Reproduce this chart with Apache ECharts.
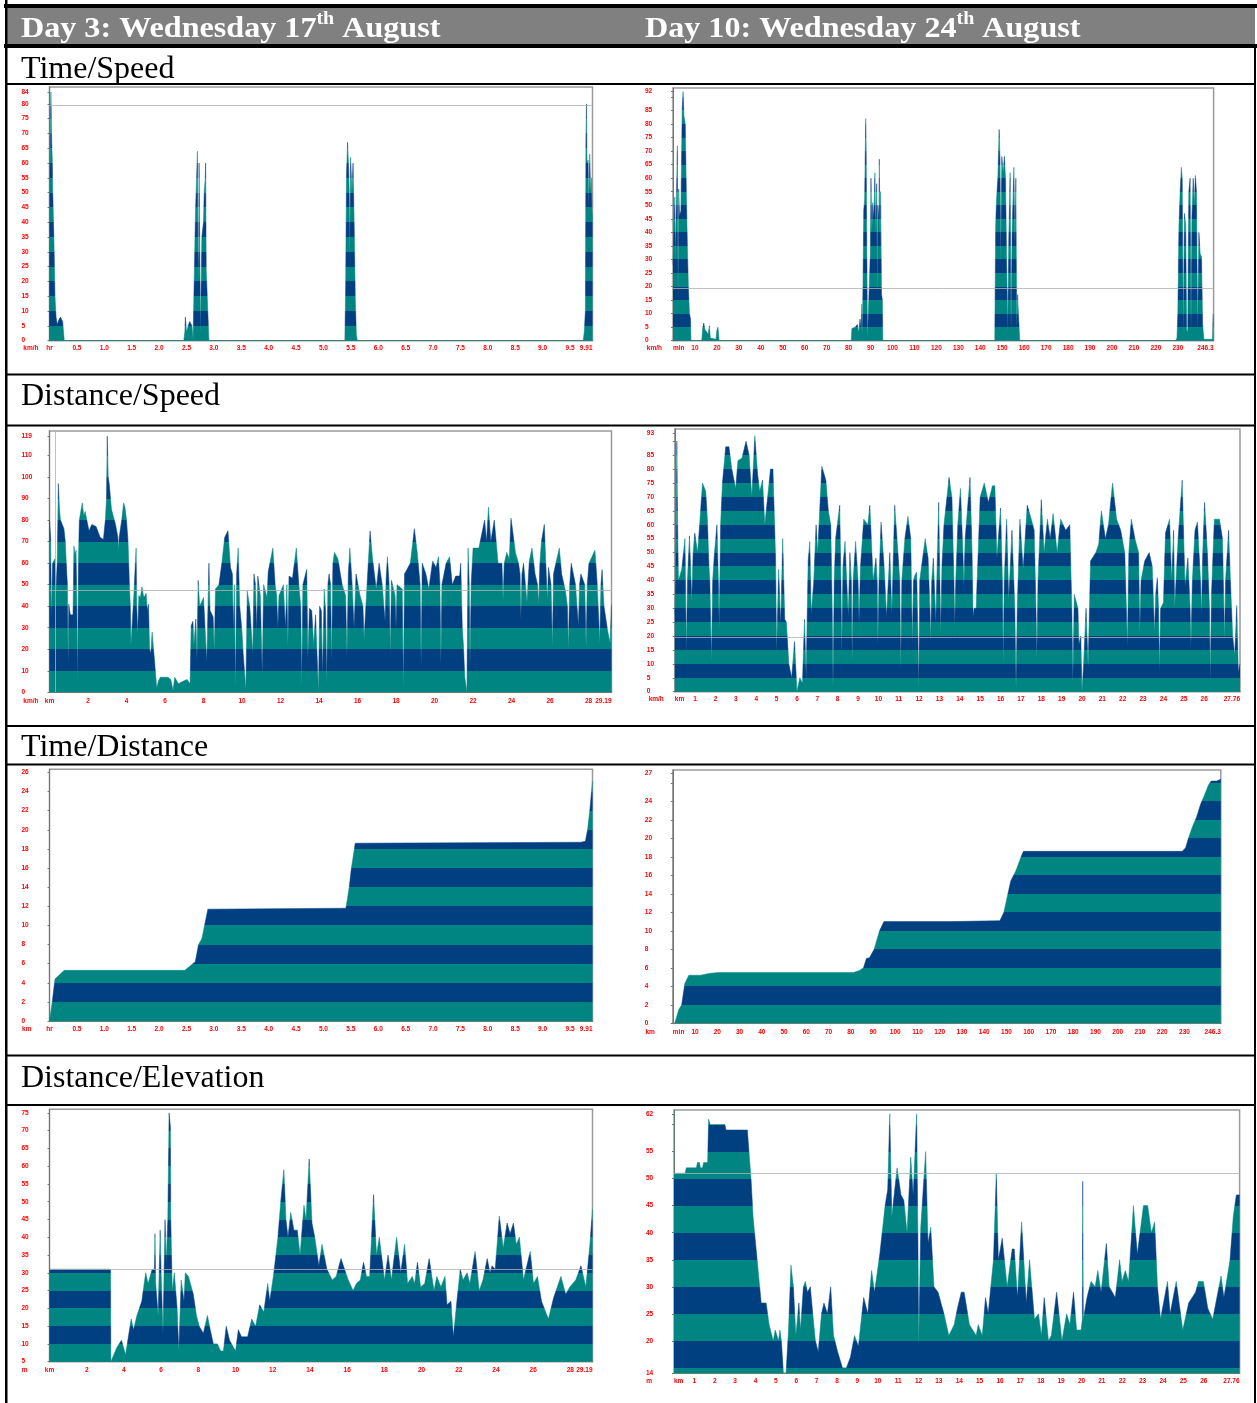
<!DOCTYPE html>
<html><head><meta charset="utf-8">
<style>html,body{margin:0;padding:0;background:#fff}#c{width:1257px;height:1403px;filter:blur(0.45px)}</style>
<script src="https://cdn.jsdelivr.net/npm/echarts@6/dist/echarts.min.js"></script>
</head><body><div id="c"></div>
<script>
// ---------- tick lists ----------
const hrTicks=[0,0.5,1,1.5,2,2.5,3,3.5,4,4.5,5,5.5,6,6.5,7,7.5,8,8.5,9,9.5,9.91];
const minTicks=[0,10,20,30,40,50,60,70,80,90,100,110,120,130,140,150,160,170,180,190,200,210,220,230,246.3];
const kmTicks3=[0,2,4,6,8,10,12,14,16,18,20,22,24,26,28,29.19];
const kmTicks10=[0,1,2,3,4,5,6,7,8,9,10,11,12,13,14,15,16,17,18,19,20,21,22,23,24,25,26,27.76];
const ySpeed3=[0,5,10,15,20,25,30,35,40,45,50,55,60,65,70,75,80,84];
const ySpeed10=[0,5,10,15,20,25,30,35,40,45,50,55,60,65,70,75,80,85,92];
const ySpeedD3=[0,10,20,30,40,50,60,70,80,90,100,110,119];
const ySpeedD10=[0,5,10,15,20,25,30,35,40,45,50,55,60,65,70,75,80,85,93];
const yDist3=[0,2,4,6,8,10,12,14,16,18,20,22,24,26];
const yDist10=[0,2,4,6,8,10,12,14,16,18,20,22,24,27];
const yElev3=[5,10,15,20,25,30,35,40,45,50,55,60,65,70,75];
const yElev10=[14,20,25,30,35,40,45,50,55,62];

// ---------- series values ----------
const timeSpeed3=[[0,0],[0.01,60],[0.025,84],[0.04,67],[0.05,62],[0.06,50],[0.08,35],[0.1,15],[0.12,8],[0.14,5.5],[0.17,7],[0.2,8],[0.24,6.5],[0.265,6],[0.27,0],[2.45,0],[2.47,3],[2.48,8],[2.5,3],[2.53,5],[2.56,6.5],[2.6,5],[2.62,0.5],[2.655,0.5],[2.665,44],[2.69,44],[2.7,64],[2.71,30],[2.72,20],[2.73,60],[2.75,60],[2.755,2],[2.77,2],[2.78,35],[2.81,40],[2.825,51],[2.84,54],[2.85,60],[2.86,24],[2.89,24],[2.91,0],[5.39,0],[5.405,18],[5.42,56],[5.44,67],[5.46,58],[5.47,50],[5.48,28],[5.495,62],[5.52,50],[5.54,60],[5.56,40],[5.58,15],[5.6,2],[5.62,0],[9.74,0],[9.76,3],[9.78,10],[9.79,68],[9.8,80],[9.81,60],[9.83,61],[9.84,45],[9.86,63],[9.875,50],[9.89,55],[9.9,44],[9.91,41]];
const timeSpeed10=[[0,28],[0.4,28],[0.8,53],[1.1,30],[1.4,46],[2,72],[2.3,15],[2.6,56],[3,46],[3.6,48],[4.2,86],[4.6,92],[5,83],[5.6,80],[6.1,54],[6.6,33],[7,20],[7.5,10],[8,8],[8.2,0],[13.1,0],[13.5,4.5],[14,6.5],[14.6,4],[15.2,4],[16,2.5],[16.6,5.5],[17,1],[17.4,0.5],[19.6,0.5],[20,4],[20.5,5],[21,0],[81.2,0],[81.5,4.5],[83,5],[84,6],[84.6,3],[85.2,8],[85.8,4],[86,13.5],[86.3,1],[86.9,48],[87.3,52],[87.8,82],[88,72],[88.3,35],[88.6,0.5],[89.5,0.5],[89.9,32],[90.2,60],[90.6,40],[91,51],[91.5,45],[92,62],[92.3,40],[92.8,58],[93,17],[93.3,50],[93.8,45],[94,67],[94.4,30],[94.6,55],[95,17],[95.4,15],[95.6,0],[146.6,0],[147,42],[147.4,52],[148,60],[148.6,78],[149,66],[149.3,28],[149.8,68],[150.4,62],[151,68],[151.5,60],[152,30],[152.5,3],[153,38],[153.6,62],[154,3],[154.5,40],[155.3,64],[155.8,35],[156.2,60],[156.6,4],[157,17],[157.5,8],[158,0],[229,0],[229.6,1],[230,10],[230.5,42],[231,54],[231.6,64],[232,60],[232.5,2],[233,47],[233.6,43],[234,4],[234.5,3],[235,55],[235.6,60],[236,3],[236.4,45],[237,60],[237.5,50],[238,61],[238.5,55],[239,3],[239.6,40],[240.2,32],[240.8,31],[241.3,6],[241.9,0.5],[245.8,0.5],[246.1,10],[246.3,10]];
const distSpeed3=[[0,80],[0.06,72],[0.1,35],[0.16,60],[0.28,62],[0.33,46],[0.4,60],[0.46,97],[0.52,85],[0.57,80],[0.75,76],[0.82,70],[0.9,55],[0.93,50],[0.97,13],[1,41],[1.08,36],[1.22,36],[1.27,68],[1.33,64],[1.38,66],[1.42,40],[1.46,4],[1.5,60],[1.55,80],[1.7,88],[1.78,82],[1.85,84],[2.05,75],[2.2,78],[2.42,77],[2.63,72],[2.8,71],[2.9,80],[2.96,90],[3,119],[3.05,100],[3.1,97],[3.22,85],[3.43,78],[3.55,72],[3.58,66],[3.62,72],[3.75,80],[3.85,88],[3.92,86],[4,80],[4.08,70],[4.15,50],[4.2,40],[4.23,22],[4.32,22],[4.38,45],[4.46,60],[4.5,67],[4.53,40],[4.58,27],[4.64,45],[4.72,44],[4.8,49],[4.9,44],[5.02,46],[5.08,38],[5.14,41],[5.2,20],[5.26,18],[5.33,28],[5.45,15],[5.57,2],[5.65,5],[5.75,7],[5.95,7],[6.15,7],[6.3,6],[6.42,1],[6.5,7],[6.7,4],[6.9,5],[7.15,6],[7.3,4],[7.36,31],[7.45,33],[7.5,22],[7.6,34],[7.66,15],[7.72,52],[7.8,40],[8,44],[8.1,44],[8.17,14],[8.22,35],[8.28,60],[8.34,38],[8.5,35],[8.56,19],[8.62,48],[8.8,50],[8.95,60],[9.1,72],[9.27,75],[9.4,58],[9.5,55],[9.55,28],[9.6,50],[9.66,2],[9.72,55],[9.8,67],[9.88,40],[10,28],[10.06,18],[10.2,1],[10.27,47],[10.4,40],[10.5,40],[10.56,18],[10.62,55],[10.7,50],[10.76,28],[10.82,54],[10.95,45],[11.05,8],[11.12,50],[11.3,44],[11.36,56],[11.6,67],[11.72,50],[11.8,45],[11.86,30],[11.92,45],[12.15,50],[12.25,30],[12.33,50],[12.38,21],[12.44,54],[12.62,53],[12.82,67],[12.95,50],[13.05,40],[13.1,3],[13.16,50],[13.36,57],[13.42,16],[13.5,39],[13.62,38],[13.72,22],[13.82,36],[13.92,36],[13.97,0],[14.03,40],[14.12,38],[14.18,8],[14.27,48],[14.34,38],[14.4,4],[14.46,50],[14.52,55],[14.6,50],[14.65,14],[14.72,60],[14.8,65],[14.98,62],[15.2,50],[15.38,45],[15.45,17],[15.52,55],[15.6,67],[15.72,50],[15.82,30],[15.92,55],[16.13,45],[16.28,40],[16.34,25],[16.42,38],[16.52,38],[16.65,75],[16.78,62],[16.97,48],[17.12,60],[17.28,50],[17.38,50],[17.43,33],[17.48,52],[17.55,63],[17.64,50],[17.7,18],[17.76,52],[17.95,45],[18,30],[18.05,50],[18.32,48],[18.38,2],[18.44,55],[18.74,60],[18.95,76],[19.1,65],[19.25,50],[19.3,13],[19.36,60],[19.55,55],[19.7,48],[19.9,61],[20.08,58],[20.2,63],[20.28,50],[20.33,13],[20.38,50],[20.6,60],[20.78,63],[20.92,50],[21.1,54],[21.3,54],[21.36,60],[21.44,30],[21.5,22],[21.57,7],[21.68,0],[21.74,67],[21.8,50],[21.84,12],[21.9,50],[22,67],[22.3,67],[22.6,80],[22.7,70],[22.8,86],[22.92,70],[23.1,80],[23.3,60],[23.5,60],[23.56,43],[23.62,60],[23.75,65],[23.88,62],[23.97,81],[24.2,65],[24.36,60],[24.44,55],[24.48,34],[24.54,55],[24.62,60],[24.8,42],[24.92,61],[25.06,67],[25.22,55],[25.35,50],[25.41,41],[25.47,60],[25.55,70],[25.7,78],[25.8,55],[25.86,43],[25.92,58],[26.05,50],[26.12,21],[26.18,55],[26.3,60],[26.48,67],[26.6,55],[26.8,47],[26.9,40],[26.95,20],[27.02,50],[27.1,60],[27.32,50],[27.42,50],[27.47,31],[27.53,50],[27.6,55],[27.8,50],[27.87,21],[27.93,50],[28.02,60],[28.33,66],[28.45,50],[28.53,50],[28.58,23],[28.64,50],[28.7,57],[28.8,40],[29,28],[29.12,23],[29.19,41]];
const distSpeed10=[[0,28],[0.05,40],[0.1,90],[0.14,60],[0.18,40],[0.34,44],[0.5,55],[0.54,30],[0.57,14],[0.62,40],[0.72,56],[0.8,40],[0.83,32],[0.9,50],[0.98,57],[1.12,50],[1.22,60],[1.36,75],[1.52,72],[1.6,62],[1.68,45],[1.72,40],[1.8,11],[1.86,40],[1.95,50],[2.07,60],[2.14,40],[2.18,23],[2.25,60],[2.34,75],[2.5,88],[2.66,88],[2.8,80],[2.99,73],[3.1,83],[3.3,84],[3.5,90],[3.65,85],[3.78,70],[3.85,80],[3.93,92],[4.07,78],[4.17,72],[4.31,76],[4.42,60],[4.56,70],[4.7,80],[4.82,80],[4.95,48],[5,14],[5.1,44],[5.2,24],[5.3,55],[5.4,26],[5.48,25],[5.6,10],[5.74,5],[5.88,18],[6,0],[6.14,5],[6.27,3],[6.37,26],[6.45,5],[6.55,47],[6.63,54],[6.7,28],[6.82,39],[6.94,60],[7.02,50],[7.22,81],[7.42,76],[7.54,65],[7.66,60],[7.73,30],[7.77,1],[7.83,40],[7.9,55],[8.1,67],[8.16,40],[8.2,14],[8.26,45],[8.36,54],[8.52,27],[8.6,50],[8.67,40],[8.71,11],[8.76,40],[8.88,54],[9,40],[9.05,25],[9.12,45],[9.28,62],[9.48,60],[9.58,67],[9.74,40],[9.88,48],[9.94,40],[9.97,17],[10.03,40],[10.13,61],[10.28,45],[10.4,27],[10.56,50],[10.66,28],[10.8,67],[10.96,50],[11.05,40],[11.1,8],[11.15,40],[11.3,55],[11.45,63],[11.59,55],[11.64,30],[11.67,17],[11.72,40],[11.8,42],[11.88,43],[11.94,20],[11.98,1],[12.03,40],[12.1,44],[12.3,55],[12.44,48],[12.53,30],[12.57,18],[12.62,40],[12.7,48],[12.82,25],[12.96,68],[13.02,40],[13.06,21],[13.12,45],[13.22,60],[13.47,77],[13.61,70],[13.71,40],[13.75,24],[13.8,40],[13.9,60],[14.03,73],[14.15,50],[14.2,38],[14.26,55],[14.5,77],[14.6,50],[14.65,27],[14.7,30],[14.8,30],[15,70],[15.2,75],[15.4,68],[15.6,74],[15.72,74],[15.82,48],[16,66],[16.09,40],[16.13,10],[16.18,40],[16.3,62],[16.4,33],[16.56,58],[16.7,30],[16.76,1],[16.82,30],[16.95,62],[17.11,44],[17.31,67],[17.51,62],[17.65,58],[17.74,30],[17.78,12],[17.84,40],[18,69],[18.14,50],[18.3,62],[18.44,55],[18.58,64],[18.78,50],[18.95,62],[19.2,58],[19.4,60],[19.5,30],[19.55,3],[19.62,35],[19.7,35],[19.8,30],[19.85,17],[19.94,20],[20,0],[20.08,10],[20.2,30],[20.3,9],[20.42,47],[20.68,50],[20.82,53],[20.95,65],[21.15,55],[21.3,60],[21.5,75],[21.7,62],[21.9,58],[22.1,50],[22.18,30],[22.23,16],[22.3,50],[22.42,62],[22.6,55],[22.78,50],[22.84,21],[22.9,40],[23.08,47],[23.3,50],[23.45,45],[23.52,30],[23.56,21],[23.62,35],[23.7,41],[23.76,30],[23.8,7],[23.86,30],[24,32],[24.1,57],[24.3,62],[24.4,40],[24.5,58],[24.55,30],[24.72,55],[24.92,76],[25.06,38],[25.2,48],[25.31,30],[25.35,16],[25.42,40],[25.55,58],[25.67,61],[25.82,40],[25.87,28],[25.93,50],[26.02,68],[26.16,50],[26.26,30],[26.3,4],[26.36,35],[26.5,62],[26.75,62],[26.9,55],[26.97,30],[27,18],[27.05,40],[27.2,58],[27.3,38],[27.4,20],[27.5,13],[27.6,31],[27.68,7],[27.76,10]];
const timeDist3=[[0,0],[0.05,2],[0.1,4.4],[0.27,5.3],[1,5.3],[2.47,5.3],[2.66,6.2],[2.72,8],[2.78,8.6],[2.83,10],[2.89,11.7],[5.41,11.8],[5.47,14],[5.51,16],[5.58,18.6],[9.7,18.7],[9.78,18.8],[9.82,20],[9.86,22],[9.91,25.1]];
const timeDist10=[[0.9,0],[2.7,1.5],[4,2],[5.4,4.3],[7.2,5.2],[12.6,5.2],[16.2,5.4],[20.7,5.5],[81.2,5.5],[83.9,5.7],[85.7,6],[87,7],[88.4,7.1],[90.5,8],[92.9,10],[94.9,11],[124.4,11],[147,11.1],[148.8,12],[150.6,14],[151.9,15.4],[154.2,16.5],[156.5,18],[157.6,18.6],[229,18.6],[230.5,19],[231.7,20],[233.6,21.3],[235.4,22.3],[237.2,23.7],[239,24.7],[240.8,25.8],[242,26.2],[244.4,26.2],[246.3,26.4]];
const distElev3=[[0,31],[3.28,31],[3.3,5],[3.4,5],[3.62,9],[3.87,11],[4.09,7],[4.39,17],[4.52,14],[4.7,18],[4.96,22],[5.17,30],[5.3,27],[5.52,31],[5.64,31],[5.67,41],[5.71,27],[5.84,18],[5.95,42],[6,30],[6.1,13],[6.21,45],[6.28,33],[6.36,45],[6.43,75],[6.5,71],[6.52,45],[6.6,25],[6.71,30],[6.86,20],[6.95,8],[7.08,28],[7.23,22],[7.3,30],[7.47,29],[7.73,24],[7.9,18],[8.05,15],[8.27,13],[8.49,18],[8.64,14],[8.81,10],[9.03,10],[9.2,8],[9.35,8],[9.5,15],[9.68,11],[10,8],[10.15,14],[10.32,12],[10.65,12],[10.87,17],[11.08,15],[11.3,21],[11.52,19],[11.73,27],[11.84,22],[12.06,30],[12.28,40],[12.43,50],[12.6,59],[12.71,45],[12.82,40],[12.97,47],[13.14,42],[13.32,42],[13.47,35],[13.68,49],[13.79,45],[13.96,62],[14.11,44],[14.26,40],[14.48,32],[14.65,38],[14.91,31],[15.2,28],[15.41,29],[15.67,34],[15.86,31],[16.06,28],[16.32,25],[16.5,27],[16.71,28],[16.88,33],[17.04,29],[17.21,29],[17.42,52],[17.58,35],[17.73,40],[18.01,28],[18.2,35],[18.38,28],[18.66,40],[18.88,30],[19.09,38],[19.25,27],[19.5,29],[19.63,27],[19.78,33],[19.95,26],[20.17,27],[20.41,34],[20.67,25],[20.82,29],[21.04,26],[21.26,29],[21.37,21],[21.58,22],[21.71,12],[21.9,22],[22.08,31],[22.23,28],[22.45,30],[22.6,27],[22.88,36],[23.1,25],[23.3,28],[23.53,34],[23.68,30],[23.79,32],[23.96,31],[24.18,46],[24.39,37],[24.6,44],[24.76,41],[24.94,44],[25.09,38],[25.26,40],[25.48,28],[25.84,36],[26.02,27],[26.23,29],[26.45,22],[26.82,17],[27.1,23],[27.49,29],[27.75,24],[27.97,26],[28.29,28],[28.57,32],[28.83,26],[29.05,38],[29.19,48]];
const distElev10=[[0,51],[0.55,51],[0.6,52],[1.1,52],[1.15,53],[1.25,53],[1.3,52],[1.4,52],[1.45,53],[1.65,53],[1.7,61],[1.78,60],[2.5,60],[2.55,59],[3.6,59],[3.68,55],[3.78,50],[3.88,43],[4.08,35],[4.28,27],[4.52,27],[4.67,23],[4.87,20],[4.97,22],[5.13,20],[5.2,22],[5.27,20],[5.37,14],[5.5,14],[5.62,22],[5.74,34],[5.86,30],[5.98,21],[6.13,27],[6.21,22],[6.35,30],[6.45,31],[6.55,29],[6.69,30],[6.81,25],[6.94,20],[7.08,18],[7.24,25],[7.36,27],[7.53,25],[7.69,30],[7.83,21],[8.03,18],[8.27,15],[8.46,15],[8.66,17],[8.86,21],[9.05,19],[9.31,28],[9.51,25],[9.7,33],[9.84,29],[10.1,36],[10.36,45],[10.49,48],[10.59,62],[10.69,43],[10.95,52],[11.14,47],[11.28,46],[11.44,40],[11.62,54],[11.74,47],[11.91,62],[11.97,40],[12.01,19],[12.11,41],[12.35,55],[12.47,38],[12.6,41],[12.76,30],[12.96,29],[13.25,25],[13.49,21],[13.75,23],[13.91,26],[14.1,29],[14.24,29],[14.5,23],[14.83,21],[14.93,23],[15.13,21],[15.29,28],[15.42,25],[15.68,35],[15.82,51],[15.92,35],[16.11,39],[16.35,30],[16.6,37],[16.7,37],[16.86,28],[17.06,42],[17.29,27],[17.45,35],[17.69,24],[17.89,25],[18.03,21],[18.17,28],[18.38,20],[18.52,21],[18.78,29],[19.04,20],[19.27,25],[19.43,23],[19.61,29],[19.76,22],[19.98,22],[20.04,24],[20.06,49.5],[20.09,24],[20.27,28],[20.47,31],[20.67,30],[20.8,33],[20.96,29],[21.22,38],[21.36,30],[21.66,28],[21.87,35],[21.99,31],[22.15,33],[22.31,31],[22.55,45],[22.74,36],[23.04,45],[23.25,45],[23.43,40],[23.59,42],[23.73,30],[23.88,24],[24.22,31],[24.35,25],[24.65,31],[24.97,22],[25.26,27],[25.6,29],[25.74,31],[25.98,31],[26.2,26],[26.44,24],[26.85,32],[26.99,28],[27.29,35],[27.45,43],[27.6,47],[27.76,47]];

// ---------- look ----------
const TEAL='#008583',NAVY='#004080';
function bands(lo,first,step,hi){ // alternating stripes, first stripe teal
  const out=[];let a=lo,b=first,i=0;
  while(a<hi){out.push({gte:a,lt:b,color:i%2?NAVY:TEAL});a=b;b=a+step;i++;}
  return out;
}
const panels=[
 {l:49.5,r:592.5,t:87,b:340.7,gap:7.6,xMax:9.91,yMin:0,yMax:85.7,xt:hrTicks,yt:ySpeed3,xu:'hr',yu:'km/h',data:timeSpeed3,band:[0,5,5],avg:79.6,hr:1},
 {l:673,r:1213.6,t:88,b:340.7,gap:7.6,xMax:246.3,yMin:0,yMax:93.3,xt:minTicks,yt:ySpeed10,tx:[90],xu:'min',yu:'km/h',data:timeSpeed10,band:[0,5,5],avg:19.5},
 {l:49.5,r:611.5,t:431,b:692.3,gap:8.7,xMax:29.19,yMin:0,yMax:121.4,xt:kmTicks3,yt:ySpeedD3,xu:'km',yu:'km/h',data:distSpeed3,band:[0,10,10],avg:47.5,vline:0.28},
 {l:674.8,r:1240,t:429,b:691.7,gap:8,xMax:27.76,yMin:0,yMax:94.4,xt:kmTicks10,yt:ySpeedD10,tx:[90],xu:'km',yu:'km/h',data:distSpeed10,band:[0,5,5],avg:19.5},
 {l:49.5,r:592.5,t:769.3,b:1021,gap:8.3,xMax:9.91,yMin:0,yMax:26.33,xt:hrTicks,yt:yDist3,xu:'hr',yu:'km',data:timeDist3,band:[0,2,2],hr:1},
 {l:672.8,r:1220.8,t:770,b:1023.3,gap:8.7,xMax:246.3,yMin:0,yMax:27.4,xt:minTicks,yt:yDist10,tx:[26],xu:'min',yu:'km',data:timeDist10,band:[0,2,2]},
 {l:49.5,r:592.5,t:1109.3,b:1361.7,gap:8.3,xMax:29.19,yMin:5,yMax:76,xt:kmTicks3,yt:yElev3,xu:'km',yu:'m',data:distElev3,band:[5,10,5],avg:31},
 {l:674,r:1239.6,t:1110,b:1373.3,gap:8.4,xMax:27.76,yMin:14,yMax:62.7,xt:kmTicks10,yt:yElev10,tx:[60],xu:'km',yu:'m',data:distElev10,band:[14,15,5],avg:51}
];
const W=1257,H=1403;
const labelStyle={color:'#ff0000',fontSize:6.5,fontWeight:'bold',fontFamily:'"Liberation Sans"'};
const unitWidth={'km/h':17,'km':10,'m':6};
const opt={animation:false,backgroundColor:'#fff',grid:[],xAxis:[],yAxis:[],series:[],visualMap:[]};
panels.forEach((p,i)=>{
  opt.grid.push({left:p.l,top:p.t,width:p.r-p.l,height:p.b-p.t,show:true,borderColor:'#9a9a9a',borderWidth:1.5,backgroundColor:'#fff',containLabel:false});
  opt.xAxis.push({type:'value',gridIndex:i,min:0,max:p.xMax,splitLine:{show:false},
    axisLine:{lineStyle:{color:'#5f7f6f',width:1}},
    axisTick:{show:false},
    axisLabel:Object.assign({},labelStyle,{margin:p.gap-3.5,customValues:p.xt,alignMaxLabel:'right',alignMinLabel:p.l>600?'left':'center',hideOverlap:false,
      formatter:v=>v===0?p.xu:(p.hr&&Number.isInteger(v*2)?v.toFixed(1):String(v))})});
  opt.yAxis.push({type:'value',gridIndex:i,min:p.yMin,max:p.yMax,splitLine:{show:false},
    name:p.yu,nameLocation:'start',nameGap:p.gap,
    nameTextStyle:Object.assign({},labelStyle,{align:'right',verticalAlign:'middle',padding:[0,28-unitWidth[p.yu],0,0]}),
    axisLine:{show:true,lineStyle:{color:'#5f7f6f',width:1}},
    axisTick:{show:true,length:2,customValues:p.yt.concat(p.tx||[]),lineStyle:{color:'#5f7f6f',width:1}},
    axisLabel:Object.assign({},labelStyle,{margin:28,align:'left',customValues:p.yt})});
  const mk=[];
  if(p.avg!==undefined)mk.push({yAxis:p.avg});
  if(p.vline!==undefined)mk.push({xAxis:p.vline});
  opt.series.push({type:'line',xAxisIndex:i,yAxisIndex:i,data:p.data,showSymbol:false,symbol:'none',
    lineStyle:{width:0.5},areaStyle:{opacity:1},silent:true,clip:true,
    markLine:mk.length?{silent:true,symbol:'none',animation:false,label:{show:false},
      lineStyle:{color:'#b0b0b0',width:1,type:'solid',opacity:0.8},data:mk}:undefined});
  opt.visualMap.push({type:'piecewise',show:false,seriesIndex:i,dimension:1,
    pieces:bands(p.band[0],p.band[1],p.band[2],p.yMax+p.band[2])});
});

// table frame and text
const blk='#000';
const rect=(x,y,w,h,fill)=>({type:'rect',silent:true,z:100,shape:{x,y,width:w,height:h},style:{fill}});
const section=(t,y)=>({type:'text',silent:true,z:101,x:21,y,style:{text:t,fill:'#000',font:'32px "Liberation Serif"',verticalAlign:'middle'}});
const head=(a,sup,b,x)=>({type:'text',silent:true,z:101,x,y:27,scaleX:1.108,originX:0,style:{
  text:'{a|'+a+'}{s|'+sup+'}{a|'+b+'}',fill:'#fff',verticalAlign:'middle',
  rich:{a:{font:'bold 29px "Liberation Serif"',fill:'#fff',lineHeight:34,verticalAlign:'bottom'},
        s:{font:'bold 18px "Liberation Serif"',fill:'#fff',lineHeight:34,verticalAlign:'top'}}}});
const graphics=[
  rect(5,7,1250,38,'#808080'),
  rect(4,4,1253,4,blk),rect(4,44,1253,4,blk),
  rect(5,0,2.5,1403,blk),rect(1254,48,2,1355,blk),
  rect(5,83,1250,2,blk),rect(5,373.5,1250,2,blk),rect(5,424.5,1250,2,blk),
  rect(5,725,1250,2,blk),rect(5,763.5,1250,2,blk),rect(5,1054.5,1250,2,blk),rect(5,1104,1250,2,blk),
  head('Day 3: Wednesday 17','th',' August',21),
  head('Day 10: Wednesday 24','th',' August',645),
  section('Time/Speed',70),section('Distance/Speed',397),section('Time/Distance',748),section('Distance/Elevation',1079)
];
opt.graphic=graphics;
const chart=echarts.init(document.getElementById('c'),null,{renderer:'canvas',width:W,height:H});
chart.setOption(opt);
</script></body></html>
